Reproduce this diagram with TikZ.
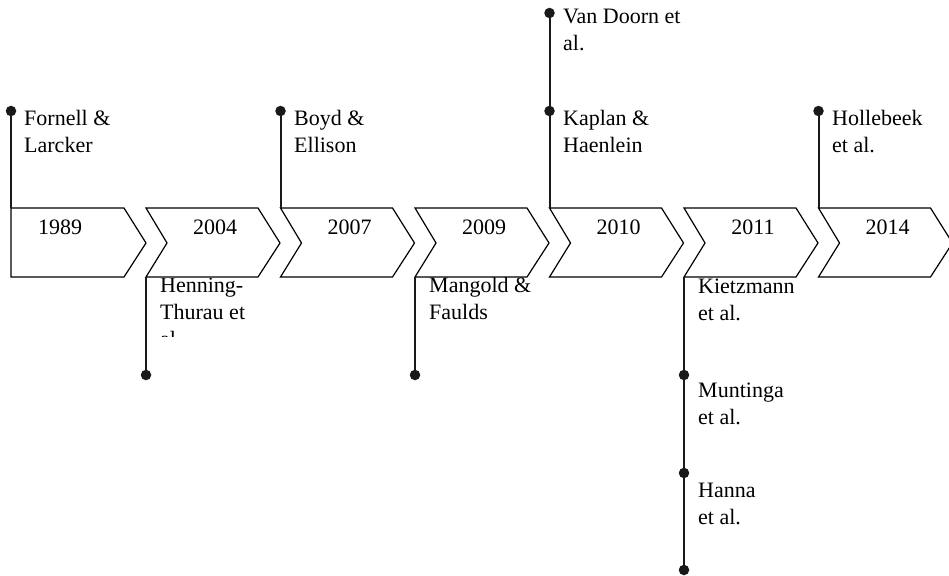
\documentclass[tikz,border=0pt]{standalone}
\usepackage{fontspec}
\setmainfont{Liberation Serif}
\begin{document}
\begin{tikzpicture}[x=1pt,y=-1pt,
  chev/.style={draw=black, line width=1.2pt, fill=white},
  year/.style={font=\fontsize{22}{27}\selectfont, inner sep=0pt, anchor=base, text=black},
  lbl/.style={font=\fontsize{22}{27}\selectfont, inner sep=0pt, anchor=base west, align=left, text=black},
  stem/.style={draw=black!90, line width=2pt},
  dot/.style={circle, fill=black!90, inner sep=0pt, minimum size=10.5pt}]
\useasboundingbox (0,0) rectangle (949,575);

% author labels (drawn first so the arrow shapes sit on top);
% each node is placed by the baseline of its last line
\node[lbl] (fornell) at (24,152) {Fornell \&\\Larcker};
\node[lbl] (boyd) at (294,152) {Boyd \&\\Ellison};
\node[lbl] (vandoorn) at (563,51) {Van Doorn et\\al.};
\node[lbl] (kaplan) at (563,152) {Kaplan \&\\Haenlein};
\node[lbl] (hollebeek) at (832,152) {Hollebeek\\et al.};
\begin{scope}
  \clip (140,278) rectangle (400,336);
  \node[lbl] (henning) at (160,346) {Henning-\\Thurau et\\al.};
\end{scope}
\node[lbl] (mangold) at (429,319) {Mangold \&\\Faulds};
\node[lbl] (kietzmann) at (698,320) {Kietzmann\\et al.};
\node[lbl] (muntinga) at (698,424) {Muntinga\\et al.};
\node[lbl] (hanna) at (698,524) {Hanna\\et al.};

% year arrows
\draw[chev] (11,208) -- (124,208) -- (146,243) -- (124,277) -- (11,277) -- cycle;
\foreach \x in {146,280.5,415,549.5,684,818.5}
  \draw[chev] (\x,208) -- (\x+112,208) -- (\x+134,243) -- (\x+112,277)
              -- (\x,277) -- (\x+21,243) -- cycle;

\node[year] (y1989) at (60,234) {1989};
\node[year] (y2004) at (215,234) {2004};
\node[year] (y2007) at (349.5,234) {2007};
\node[year] (y2009) at (484,234) {2009};
\node[year] (y2010) at (618.5,234) {2010};
\node[year] (y2011) at (753,234) {2011};
\node[year] (y2014) at (887.5,234) {2014};

% anchor points on the arrows
\coordinate (a1989) at (11,208);
\coordinate (a2004) at (146,277);
\coordinate (a2007) at (280.5,208);
\coordinate (a2009) at (415,277);
\coordinate (a2010) at (549.5,208);
\coordinate (a2011) at (684,277);
\coordinate (a2014) at (818.5,208);

% stems and dots
\node[dot] (d1989) at (11,111) {};
\node[dot] (d2004) at (146,375) {};
\node[dot] (d2007) at (280.5,111) {};
\node[dot] (d2009) at (415,375) {};
\node[dot] (d2010a) at (549.5,13) {};
\node[dot] (d2010b) at (549.5,111) {};
\node[dot] (d2011a) at (684,375) {};
\node[dot] (d2011b) at (684,473) {};
\node[dot] (d2011c) at (684,570) {};
\node[dot] (d2014) at (818.5,111) {};

\draw[stem] (d1989.center) -- (a1989);
\draw[stem] (a2004) -- (d2004.center);
\draw[stem] (d2007.center) -- (a2007);
\draw[stem] (a2009) -- (d2009.center);
\draw[stem] (d2010a.center) -- (a2010);
\draw[stem] (a2011) -- (d2011c.center);
\draw[stem] (d2014.center) -- (a2014);
\end{tikzpicture}
\end{document}
